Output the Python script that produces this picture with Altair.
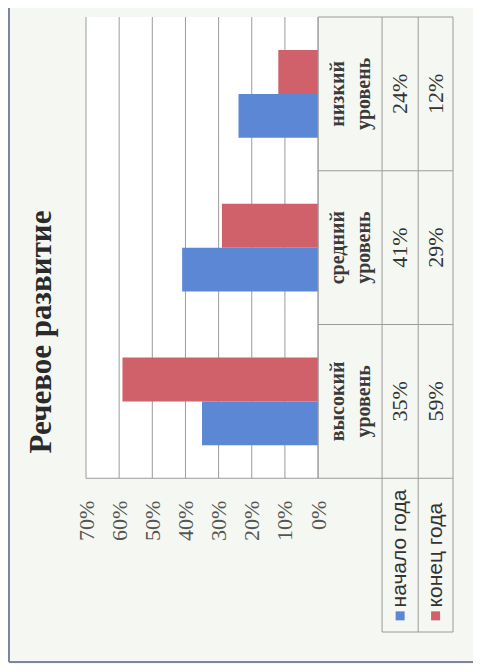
import altair as alt
import pandas as pd

# ---- data ----
CATEGORIES = ["низкий уровень", "средний уровень", "высокий уровень"]
SERIES = ["начало года", "конец года"]
START_YEAR = [24, 41, 35]   # начало года, %
END_YEAR = [12, 29, 59]     # конец года, %
TICKS = [0, 10, 20, 30, 40, 50, 60, 70]
TITLE = "Речевое развитие"

# ---- styles / layout ----
BLUE = "#5b87d5"
RED = "#d0606a"
GRID = "#9c9c9c"
PAPER = "#f4f7f2"
TXT = "#333333"
SERIF = "Liberation Serif, Times New Roman, serif"

W, H = 367, 615
XMIN, XMAX = -0.407, 0.70
COL = [0.0, -0.193, -0.302, -0.407]   # table column edges in x units
CAT_X = -0.060                        # first text line of the category cell
NROWS = 4                             # 3 categories + legend row

X = alt.Scale(domain=[XMIN, XMAX], reverse=True, nice=False, zero=False)
YR = alt.Scale(domain=[0, NROWS], reverse=True, nice=False, zero=False)
AX = alt.Axis(values=[t / 100 for t in TICKS], format=".0%", labelAngle=270,
              offset=-H / NROWS, domain=False, ticks=False, grid=False,
              labelPadding=22, labelFont=SERIF, labelFontSize=22,
              labelColor="#555555", labelFlush=False, labelOverlap=False,
              title=None)


def xq(field):
    return alt.X(field, type="quantitative", scale=X, axis=AX)


def yq(field):
    return alt.Y(field, type="quantitative", scale=YR, axis=None)


# bars
bars_df = pd.DataFrame(
    [{"cat": c, "series": SERIES[0], "v": s / 100} for c, s in zip(CATEGORIES, START_YEAR)]
    + [{"cat": c, "series": SERIES[1], "v": e / 100} for c, e in zip(CATEGORIES, END_YEAR)]
)

# plot white area
plot_bg = pd.DataFrame([{"x": XMAX, "x2": 0.0, "y": 0, "y2": 3}])

# gridlines
grid_df = pd.DataFrame([{"x": t / 100, "y": 0, "y2": 3} for t in TICKS])

# table lines
lines = []
for c in COL[1:]:
    lines.append({"x": c, "x2": c, "y": 0, "y2": NROWS})
lines.append({"x": COL[0], "x2": COL[0], "y": 0, "y2": 3})
for r in [0, 1, 2]:
    lines.append({"x": COL[0], "x2": COL[3], "y": r, "y2": r})
lines.append({"x": XMAX, "x2": COL[3], "y": 3, "y2": 3})
lines.append({"x": COL[1], "x2": COL[3], "y": NROWS, "y2": NROWS})
lines_df = pd.DataFrame(lines)

cat_df = pd.DataFrame([{"x": CAT_X, "y": i + 0.5, "t": c}
                       for i, c in enumerate(CATEGORIES)])
ccen = [(COL[1] + COL[2]) / 2, (COL[2] + COL[3]) / 2]
val_df = pd.DataFrame(
    [{"x": ccen[0], "y": i + 0.5, "t": f"{v}%"} for i, v in enumerate(START_YEAR)]
    + [{"x": ccen[1], "y": i + 0.5, "t": f"{v}%"} for i, v in enumerate(END_YEAR)]
)
leg_df = pd.DataFrame([{"x": ccen[i], "y": 3.84, "ys": 3.895, "series": s}
                       for i, s in enumerate(SERIES)])
one = pd.DataFrame([{"a": 1}])

color = alt.Color("series:N", scale=alt.Scale(domain=SERIES, range=[BLUE, RED]), legend=None)

l_bg = alt.Chart(plot_bg).mark_rect(color="white").encode(
    x=xq("x"), x2="x2", y=yq("y"), y2="y2")

l_grid = alt.Chart(grid_df).mark_rule(color=GRID, strokeWidth=1).encode(
    x=xq("x"), y=yq("y"), y2="y2")

l_bars = alt.Chart(bars_df).mark_bar().encode(
    x=alt.X("v:Q", scale=X, axis=AX, stack=None),
    y=alt.Y("cat:N", scale=alt.Scale(domain=CATEGORIES + [" "], paddingInner=0, paddingOuter=0), axis=None),
    yOffset=alt.YOffset("series:N", scale=alt.Scale(domain=[SERIES[1], SERIES[0]],
                                                    paddingInner=0, paddingOuter=0.75)),
    color=color,
)

l_lines = alt.Chart(lines_df).mark_rule(color=GRID, strokeWidth=1).encode(
    x=xq("x"), x2="x2", y=yq("y"), y2="y2")

l_cat = alt.Chart(cat_df).mark_text(
    angle=270, align="center", baseline="middle", lineBreak=" ", lineHeight=26,
    font=SERIF, fontSize=20, fontWeight="bold", color="#3a3a3a"
).encode(x=xq("x"), y=yq("y"), text="t:N")

l_val = alt.Chart(val_df).mark_text(
    angle=270, align="center", baseline="middle",
    font=SERIF, fontSize=22, color=TXT
).encode(x=xq("x"), y=yq("y"), text="t:N")

l_legtxt = alt.Chart(leg_df).mark_text(
    angle=270, align="left", baseline="middle",
    font="Liberation Sans Narrow, Liberation Sans", fontSize=21, color=TXT
).encode(x=xq("x"), y=yq("y"), text="series:N")

l_sw = alt.Chart(leg_df).mark_square(size=81, opacity=1).encode(
    x=xq("x"), y=yq("ys"), color=color)

l_title = alt.Chart(one).mark_text(
    angle=270, align="center", baseline="middle",
    font=SERIF, fontSize=31, fontWeight="bold", color="#2a2a2a", text=TITLE
).encode(x=alt.value(-44), y=alt.value(315))

l_frame_l = alt.Chart(one).mark_rule(color="#7d83a0", strokeWidth=2).encode(
    x=alt.value(-77), y=alt.value(-9), y2=alt.value(645))
l_frame_b = alt.Chart(one).mark_rule(color="#7d83a0", strokeWidth=2).encode(
    x=alt.value(-77), x2=alt.value(392), y=alt.value(645))

chart = alt.layer(
    l_bg, l_grid, l_bars, l_lines, l_cat, l_val, l_legtxt, l_sw,
    l_title, l_frame_l, l_frame_b
).resolve_scale(y="independent").properties(
    width=W, height=H,
    autosize=alt.AutoSizeParams(type="none"),
    padding={"left": 78, "top": 9, "right": 20, "bottom": 32},
    background=PAPER,
).configure_view(stroke=None)

chart.save("out.html", embed_options={"renderer": "svg", "actions": False})
